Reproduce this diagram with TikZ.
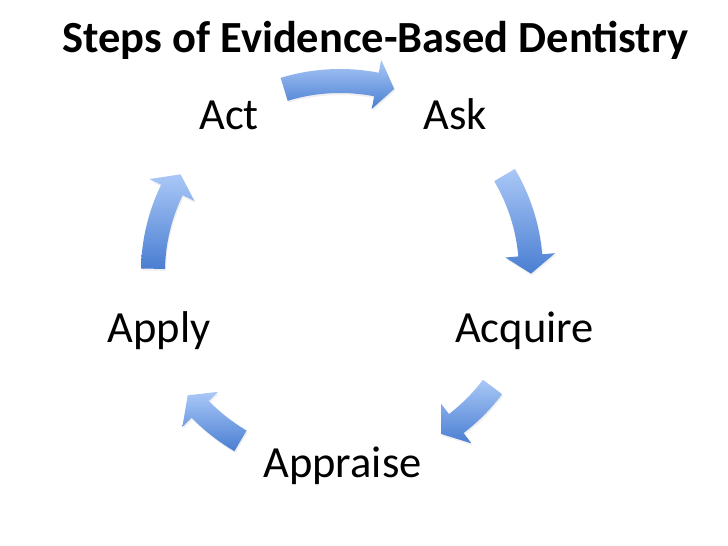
\documentclass[tikz,border=0pt]{standalone}
\usepackage{fontspec}
\setmainfont{Carlito}
\usetikzlibrary{calc,shadows}
\definecolor{arrlight}{RGB}{170,200,247}
\definecolor{arrdark}{RGB}{74,126,210}
\tikzset{
  arrowfill/.style={top color=arrlight, bottom color=arrdark, draw=none,
    drop shadow={opacity=0.12, shadow xshift=1pt, shadow yshift=-2pt}},
  label/.style={font=\fontsize{44.5}{52}\selectfont, anchor=base, inner sep=0pt},
  titletext/.style={font=\bfseries\fontsize{44.5}{52}\selectfont, anchor=base, inner sep=0pt}
}
% #1 tail angle, #2 tip angle, #3 radius
\newcommand\cycarrow[3]{%
  \pgfmathsetmacro\hb{#2+5.5}%
  \path[arrowfill]
    ($(c)+({#1}:{#3+12})$) arc[start angle={#1}, end angle=\hb, radius={#3+12}]
    -- ($(c)+({\hb}:{#3+25})$)
    -- ($(c)+({#2}:{#3})$)
    -- ($(c)+({\hb}:{#3-25})$)
    -- ($(c)+({\hb}:{#3-12})$)
    arc[start angle=\hb, end angle={#1}, radius={#3-12}]
    -- cycle;}
\begin{document}
\begin{tikzpicture}[x=1pt,y=1pt]
  \useasboundingbox (0,0) rectangle (728,546);
  \coordinate (c) at (340,274);
  \node[titletext] (title) at (375.5,493) {Steps of Evidence-Based Dentistry};
  \node[label] (act) at (229,416) {Act};
  \node[label] (ask) at (455,416) {Ask};
  \node[label] (acquire) at (524.5,203) {Acquire};
  \node[label] (apply) at (159,203) {Apply};
  \node[label] (appraise) at (342.5,68) {Appraise};
  \cycarrow{107}{73.5}{191}
  \cycarrow{30.5}{-0.5}{191}
  \cycarrow{-37}{-58}{191}
  \cycarrow{-120.5}{-141}{196}
  \cycarrow{179}{148.5}{187}
\end{tikzpicture}
\end{document}
